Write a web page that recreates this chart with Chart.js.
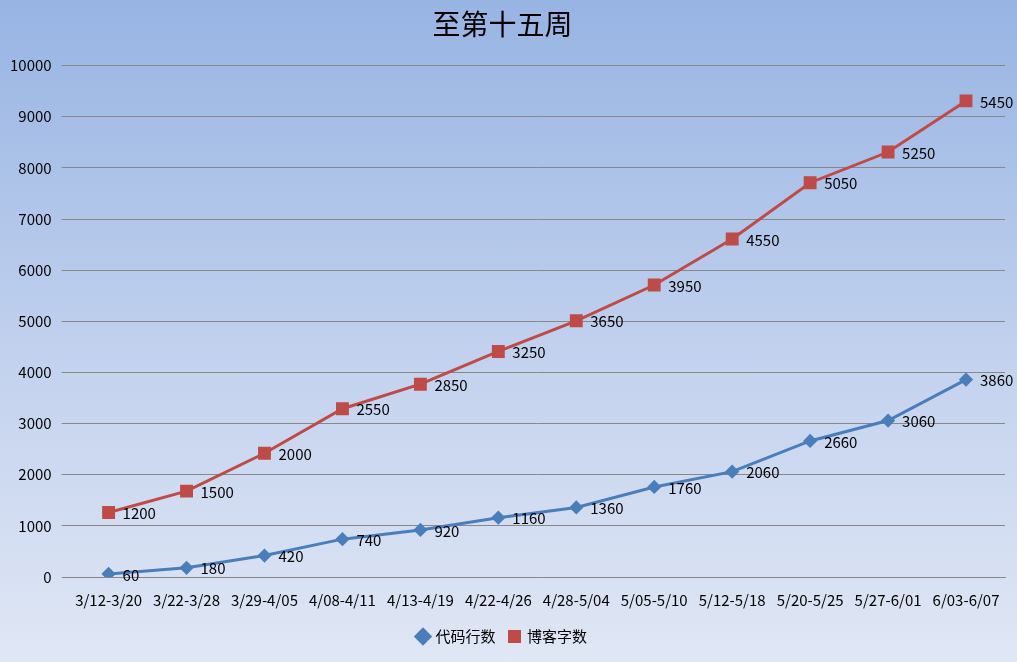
<!DOCTYPE html>
<html><head><meta charset="utf-8">
<script src="https://cdn.jsdelivr.net/npm/chart.js@4"></script>
<style>
html,body{margin:0;padding:0;}
body{width:1017px;height:662px;background:linear-gradient(to bottom,#97b4e3 0%,#c3d2ee 55%,#e0e7f5 100%);}
#wrap{position:relative;width:1017px;height:662px;}
</style></head><body>
<div id="wrap"><canvas id="c" width="1017" height="662"></canvas></div>
<script>
const weeks = ["3/12-3/20","3/22-3/28","3/29-4/05","4/08-4/11","4/13-4/19","4/22-4/26","4/28-5/04","5/05-5/10","5/12-5/18","5/20-5/25","5/27-6/01","6/03-6/07"];
const codeLines = [60,180,420,740,920,1160,1360,1760,2060,2660,3060,3860];
const blogWords = [1200,1500,2000,2550,2850,3250,3650,3950,4550,5050,5250,5450];

// draws each point's own value to the right of the marker
const valueLabels = {
  id: "valueLabels",
  afterDatasetsDraw(chart) {
    const ctx = chart.ctx;
    ctx.save();
    ctx.font = "15px 'Noto Sans CJK SC', 'DejaVu Sans', sans-serif";
    ctx.fillStyle = "#000";
    ctx.textBaseline = "middle";
    chart.data.datasets.forEach((ds, i) => {
      chart.getDatasetMeta(i).data.forEach((pt, j) => {
        ctx.fillText(String(ds.data[j]), pt.x + 14, pt.y + 1);
      });
    });
    ctx.restore();
  }
};

new Chart(document.getElementById("c"), {
  type: "line",
  data: {
    labels: weeks,
    datasets: [
      { label: "代码行数", data: codeLines, borderColor: "#4a7ebb", backgroundColor: "#4a7ebb",
        pointStyle: "rectRot", pointRadius: 5, borderWidth: 3, fill: false },
      { label: "博客字数", data: blogWords, borderColor: "#be4b48", backgroundColor: "#be4b48",
        pointStyle: "rect", pointRadius: 7, borderWidth: 3, fill: false },
    ],
  },
  options: {
    responsive: false,
    animation: false,
    layout: { padding: { left: 0, right: 12, top: 0, bottom: 8 } },
    plugins: {
      title: { display: true, text: "至第十五周", color: "#000",
               font: { size: 28, family: "'Noto Sans CJK SC', sans-serif", weight: "normal" },
               padding: { top: 8, bottom: 24 } },
      legend: { position: "bottom",
                labels: { usePointStyle: true, color: "#000", boxWidth: 10, boxHeight: 10, padding: 14,
                          font: { size: 15, family: "'Noto Sans CJK SC', sans-serif" } } },
      tooltip: { enabled: false },
    },
    scales: {
      x: { offset: true, grid: { display: false }, border: { color: "#888" },
           ticks: { color: "#000", maxRotation: 0, padding: 6, font: { size: 15, family: "'Noto Sans CJK SC', sans-serif" } } },
      y: { stacked: true, min: 0, max: 10000, border: { display: false },
           grid: { color: "#888" },
           ticks: { stepSize: 1000, color: "#000", padding: 10, callback: (v) => String(v),
                    font: { size: 15, family: "'Noto Sans CJK SC', sans-serif" } } },
    },
  },
  plugins: [valueLabels],
});
</script>
</body></html>
